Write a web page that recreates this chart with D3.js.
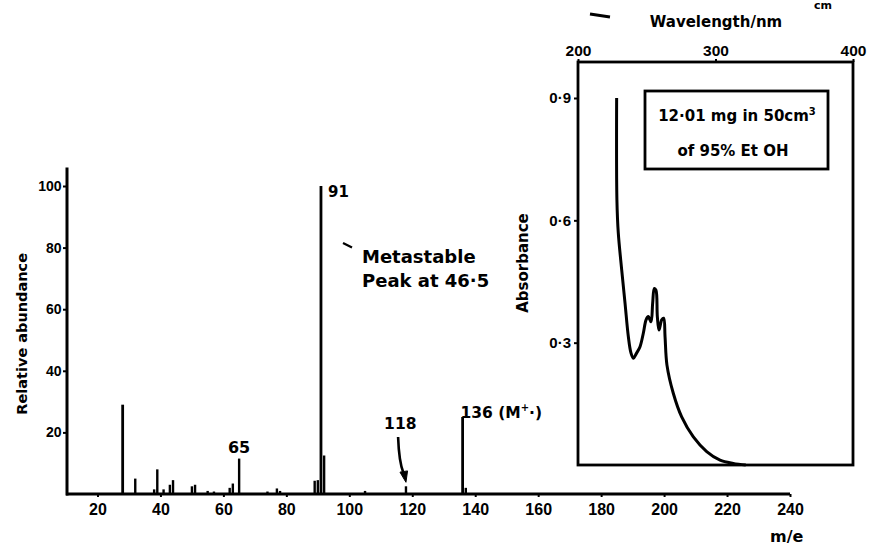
<!DOCTYPE html>
<meta charset="utf-8">
<style>
body { margin: 0; background: #fff; }
svg { display: block; font-family: "DejaVu Sans", "Liberation Sans", sans-serif; font-weight: bold; }
</style>
<svg width="872" height="548"></svg>
<script src="https://cdn.jsdelivr.net/npm/d3@7"></script>
<script>

// mass spectrum (m/e vs relative abundance)
var mz =        [28, 32, 38, 39, 41, 43, 44, 50, 51, 55, 57, 62, 63, 65, 74, 77, 78, 89, 90, 91, 92, 105, 118, 136, 137];
var abundance = [29, 5, 1.5, 8, 1.5, 3, 4.5, 2.5, 3, 1, 0.8, 2, 3.4, 11.5, 0.8, 1.8, 1, 4.3, 4.5, 100, 12.5, 1, 2.5, 25, 2];
var mzTicks = [20, 40, 60, 80, 100, 120, 140, 160, 180, 200, 220, 240];
var abundanceTicks = [20, 40, 60, 80, 100];

// UV spectrum inset (wavelength vs absorbance)
var wavelength = [228.1, 228.3, 229.3, 231.8, 234.2, 236.6, 238.5, 240.2, 242.7, 245.1, 247.5, 249.5, 251.1, 253.1,
                  254.3, 255.5, 256.7, 257.7, 258.9, 260.9, 262.3, 263.3, 264.7, 269.3, 275.4, 283.9, 293.6, 303.3, 312.9, 322];
var absorbance = [0.90, 0.65, 0.569, 0.478, 0.397, 0.315, 0.275, 0.262, 0.275, 0.290, 0.323, 0.356, 0.364, 0.351,
                  0.397, 0.433, 0.429, 0.364, 0.331, 0.356, 0.360, 0.315, 0.245, 0.176, 0.118, 0.069, 0.033, 0.012, 0.004, 0];
var nmTicks = [200, 300, 400];
var absTicks = [0.3, 0.6, 0.9];

var svg = d3.select("svg");

// ---- main chart ----
var x = d3.scaleLinear().domain([10, 240]).range([66, 790]);
var y = d3.scaleLinear().domain([0, 100]).range([494, 186]);

var peaks = mz.map(function(d, i) { return {mz: d, v: abundance[i]}; });

svg.append("g").selectAll("line")
  .data(peaks)
  .enter().append("line")
  .attr("x1", function(d) { return x(d.mz); })
  .attr("x2", function(d) { return x(d.mz); })
  .attr("y1", y(0))
  .attr("y2", function(d) { return y(d.v); })
  .attr("stroke", "#000")
  .attr("stroke-width", function(d) { return d.v > 20 ? 2.8 : 2.4; });

var xAxis = svg.append("g")
  .attr("transform", "translate(0," + y(0) + ")")
  .call(d3.axisBottom(x).tickValues(mzTicks).tickSize(3).tickSizeOuter(0).tickPadding(6.5));
xAxis.select(".domain").remove();
xAxis.selectAll("text").attr("font-size", 16).attr("font-family", null);
xAxis.selectAll("line").attr("stroke-width", 2);

var yAxis = svg.append("g")
  .attr("transform", "translate(" + x(10) + ",0)")
  .call(d3.axisLeft(y).tickValues(abundanceTicks).tickSize(3).tickSizeOuter(0).tickPadding(1.5));
yAxis.select(".domain").remove();
yAxis.selectAll("text").attr("font-size", 14).attr("font-family", null);
yAxis.selectAll("line").attr("stroke-width", 2);

svg.append("line")
  .attr("x1", x(10)).attr("x2", x(240))
  .attr("y1", y(0)).attr("y2", y(0))
  .attr("stroke", "#000").attr("stroke-width", 3);
svg.append("line")
  .attr("x1", x(10) + 1).attr("x2", x(10) + 1)
  .attr("y1", y(0) + 1.5).attr("y2", y(106))
  .attr("stroke", "#000").attr("stroke-width", 3);

svg.append("text")
  .attr("transform", "translate(27," + y(52) + ") rotate(-90)")
  .attr("text-anchor", "middle")
  .attr("font-size", 14.5)
  .text("Relative abundance");

svg.append("text")
  .attr("x", 770).attr("y", 542)
  .attr("font-size", 16)
  .text("m/e");

// peak labels
svg.append("text").attr("x", x(91) + 7).attr("y", y(96.4)).attr("font-size", 15).text("91");
svg.append("text").attr("x", x(65)).attr("y", y(13.3)).attr("text-anchor", "middle").attr("font-size", 16).text("65");
svg.append("text").attr("x", x(116.2)).attr("y", y(21)).attr("text-anchor", "middle").attr("font-size", 15.5).text("118");

var mLabel = svg.append("text").attr("x", x(135.3)).attr("y", y(24.7)).attr("font-size", 15.5);
mLabel.append("tspan").text("136 (M");
mLabel.append("tspan").attr("dy", -7).attr("font-size", 10).text("+");
mLabel.append("tspan").attr("dy", 7).text("\u00b7)");

// arrow to 118
svg.append("path")
  .attr("d", "M" + x(115.5) + "," + y(18.5) +
    " C" + x(115.7) + "," + y(12.7) + " " + x(116.3) + "," + y(9.1) + " " + x(117.2) + "," + y(6.8))
  .attr("fill", "none").attr("stroke", "#000").attr("stroke-width", 2.6);
svg.append("path")
  .attr("d", "M" + x(118) + "," + y(3.8) + " L" + x(116.1) + "," + y(7.1) + " L" + x(118.5) + "," + y(7.5) + " Z")
  .attr("fill", "#000").attr("stroke", "#000").attr("stroke-width", 1).attr("stroke-linejoin", "round");

// metastable note
svg.append("line")
  .attr("x1", 343).attr("y1", 243).attr("x2", 352).attr("y2", 247.5)
  .attr("stroke", "#000").attr("stroke-width", 2.2);
svg.append("text").attr("x", 362).attr("y", 263).attr("font-size", 18).text("Metastable");
svg.append("text").attr("x", 362).attr("y", 287).attr("font-size", 18).text("Peak at 46\u00b75");

// ---- UV inset ----
var xu = d3.scaleLinear().domain([200, 400]).range([578, 853]);
var yu = d3.scaleLinear().domain([0, 0.9]).range([465, 98]);

svg.append("rect")
  .attr("x", xu(200)).attr("y", 62)
  .attr("width", xu(400) - xu(200)).attr("height", yu(0) - 62)
  .attr("fill", "none").attr("stroke", "#000").attr("stroke-width", 2.8);

var topAxis = svg.append("g")
  .attr("transform", "translate(0,62)")
  .call(d3.axisTop(xu).tickValues(nmTicks).tickSize(3).tickSizeOuter(0).tickPadding(3.5));
topAxis.select(".domain").remove();
topAxis.selectAll("text").attr("font-size", 15.5).attr("font-family", null);
topAxis.selectAll("line").attr("stroke-width", 2);

var leftAxis = svg.append("g")
  .attr("transform", "translate(" + xu(200) + ",0)")
  .call(d3.axisLeft(yu).tickValues(absTicks).tickSize(4).tickSizeOuter(0).tickPadding(3)
    .tickFormat(function(d) { return d3.format(".1f")(d).replace(".", "\u00b7"); }));
leftAxis.select(".domain").remove();
leftAxis.selectAll("text").attr("font-size", 15).attr("font-family", null);
leftAxis.selectAll("line").attr("stroke-width", 2);

svg.append("text")
  .attr("x", 716).attr("y", 27)
  .attr("text-anchor", "middle").attr("font-size", 15)
  .text("Wavelength/nm");
svg.append("text").attr("x", 814).attr("y", 9).attr("font-size", 11).text("cm");
svg.append("line")
  .attr("x1", 590).attr("y1", 14).attr("x2", 610).attr("y2", 17)
  .attr("stroke", "#000").attr("stroke-width", 3);

svg.append("text")
  .attr("transform", "translate(528,263) rotate(-90)")
  .attr("text-anchor", "middle").attr("font-size", 15)
  .text("Absorbance");

var uv = wavelength.map(function(d, i) { return [d, absorbance[i]]; });
svg.append("path")
  .datum(uv)
  .attr("d", d3.line()
    .x(function(d) { return xu(d[0]); })
    .y(function(d) { return yu(d[1]); })
    .curve(d3.curveCatmullRom.alpha(0.5)))
  .attr("fill", "none").attr("stroke", "#000").attr("stroke-width", 3)
  .attr("stroke-linejoin", "round");

// note box
svg.append("rect")
  .attr("x", 645).attr("y", 91).attr("width", 183).attr("height", 78)
  .attr("fill", "none").attr("stroke", "#000").attr("stroke-width", 2.8);
var note = svg.append("text").attr("x", 737).attr("y", 121).attr("text-anchor", "middle").attr("font-size", 15);
note.append("tspan").text("12\u00b701 mg in 50cm");
note.append("tspan").attr("dy", -6).attr("font-size", 10).text("3");
svg.append("text").attr("x", 733).attr("y", 156).attr("text-anchor", "middle").attr("font-size", 15)
  .text("of 95% Et OH");

</script>
